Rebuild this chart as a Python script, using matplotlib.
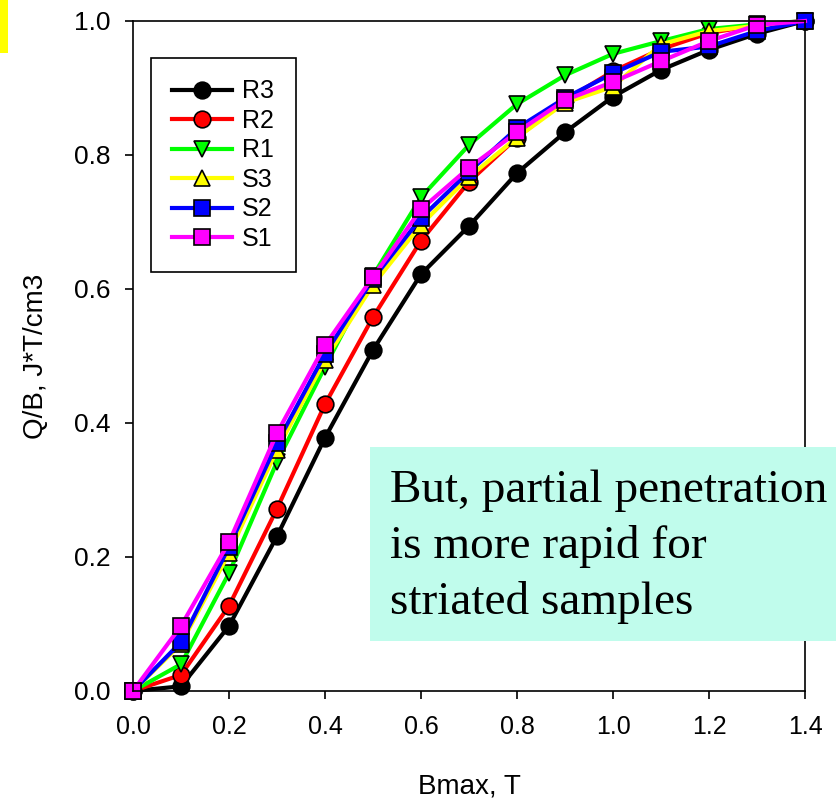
import numpy as np
import matplotlib
matplotlib.use("Agg")
import matplotlib.pyplot as plt
from matplotlib.patches import Rectangle

# Q/B vs Bmax for round (R) and striated (S) samples
bmax = [0.0, 0.1, 0.2, 0.3, 0.4, 0.5, 0.6, 0.7, 0.8, 0.9, 1.0, 1.1, 1.2, 1.3, 1.4]
r3 = [0.0, 0.007, 0.097, 0.231, 0.378, 0.509, 0.622, 0.694, 0.773, 0.834, 0.887, 0.927, 0.957, 0.981, 1.0]
r2 = [0.0, 0.024, 0.127, 0.272, 0.428, 0.558, 0.672, 0.760, 0.826, 0.882, 0.925, 0.958, 0.982, 0.994, 1.0]
r1 = [0.0, 0.040, 0.176, 0.342, 0.484, 0.620, 0.737, 0.815, 0.876, 0.919, 0.951, 0.970, 0.988, 0.995, 1.0]
s3 = [0.0, 0.070, 0.206, 0.360, 0.494, 0.606, 0.696, 0.767, 0.826, 0.878, 0.902, 0.965, 0.985, 0.993, 1.0]
s2 = [0.0, 0.073, 0.215, 0.370, 0.503, 0.615, 0.706, 0.775, 0.840, 0.885, 0.922, 0.954, 0.962, 0.985, 1.0]
s1 = [0.0, 0.097, 0.222, 0.385, 0.516, 0.618, 0.719, 0.781, 0.834, 0.882, 0.909, 0.940, 0.970, 0.994, 1.0]

series = [("R3", r3, "#000000", "o"), ("R2", r2, "#ff0000", "o"), ("R1", r1, "#00ff00", "v"),
          ("S3", s3, "#ffff00", "^"), ("S2", s2, "#0000ff", "s"), ("S1", s1, "#ff00ff", "s")]
xticks = [0.0, 0.2, 0.4, 0.6, 0.8, 1.0, 1.2, 1.4]
yticks = [0.0, 0.2, 0.4, 0.6, 0.8, 1.0]

plt.rcParams["font.family"] = ["Liberation Sans", "DejaVu Sans"]

fig = plt.figure(figsize=(8.36, 8.02), dpi=100)
ax = fig.add_axes([133 / 836, 1 - 691 / 802, 672 / 836, 670 / 802])

for name, ys, col, mk in series:
    # S2 marker sits on top at Bmax=1.4 in the original, so S1 skips its last marker
    me = slice(0, len(ys) - 1) if name == "S1" else None
    ax.plot(bmax, ys, color=col, lw=3, marker=mk, ms=12 if mk != "s" else 11,
            mfc=col, mec="black", mew=1.2, label=name, markevery=me, clip_on=False)

ax.set_xlim(0, 1.4); ax.set_ylim(0, 1.0)
ax.set_xticks(xticks); ax.set_yticks(yticks)
ax.tick_params(direction="out", length=6, width=1.2)
ax.tick_params(axis="x", pad=11); ax.tick_params(axis="y", pad=10)
ax.set_xticklabels([f"{v:.1f}" for v in xticks], fontsize=18)
ax.set_yticklabels([f"{v:.1f}" for v in yticks], fontsize=19)
for s in ax.spines.values():
    s.set_linewidth(1.2)
ax.set_xlabel("Bmax, T", fontsize=20, labelpad=25)
ax.set_ylabel("Q/B, J*T/cm3", fontsize=20, labelpad=18)

leg = ax.legend(loc="upper left", bbox_to_anchor=(151 / 836, 1 - 58 / 802), bbox_transform=fig.transFigure,
                borderaxespad=0, fancybox=False, edgecolor="black", framealpha=1,
                prop={"size": 18}, labelspacing=0.22,
                handlelength=2.4, handletextpad=0.4, borderpad=0.85)
leg.get_frame().set_linewidth(1.2)

# yellow tab in the top-left corner
fig.patches.append(Rectangle((0, 1 - 53 / 802), 8 / 836, 53 / 802, transform=fig.transFigure,
                             facecolor="#ffff00", edgecolor="none"))
# annotation box
fig.patches.append(Rectangle((370 / 836, 1 - 641 / 802), 466 / 836, 194 / 802, transform=fig.transFigure,
                             facecolor="#c0fcec", edgecolor="none", zorder=5))
fig.text(390 / 836, 1 - 470 / 802, "But, partial penetration\nis more rapid for\nstriated samples",
         family="Liberation Serif", fontsize=34, va="top", ha="left", linespacing=1.38, zorder=6)

fig.savefig("out.png", dpi=100, facecolor="white")
